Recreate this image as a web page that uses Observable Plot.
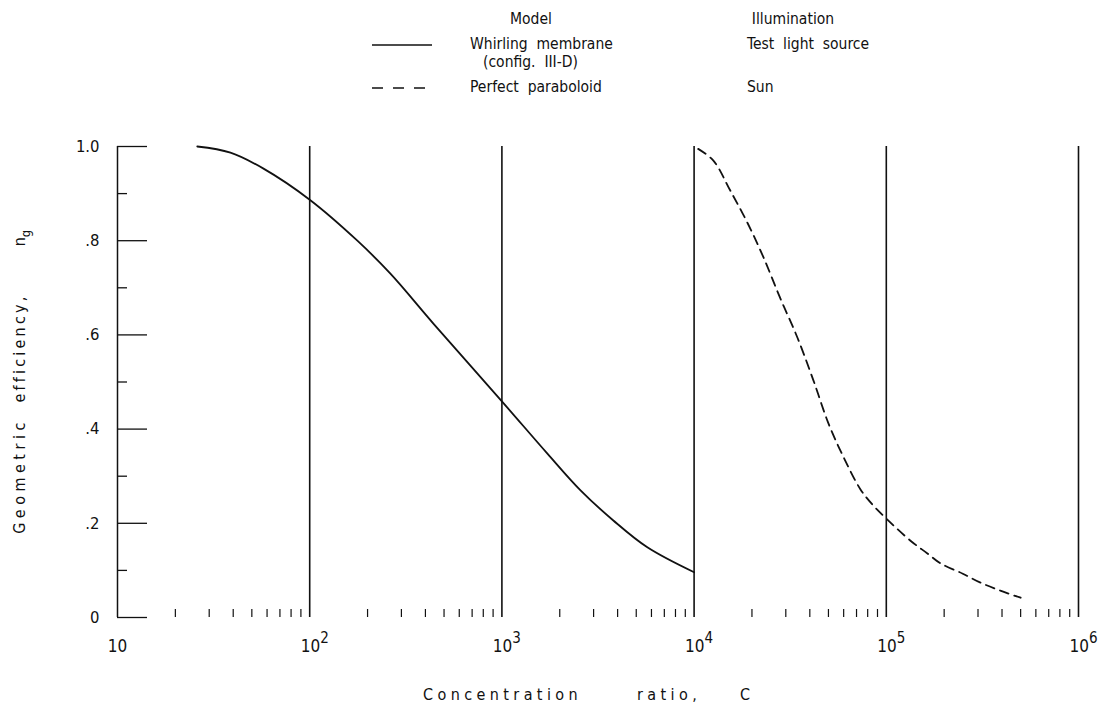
<!DOCTYPE html>
<html><head><meta charset="utf-8">
<script src="https://cdn.jsdelivr.net/npm/d3@7"></script>
<script src="https://cdn.jsdelivr.net/npm/@observablehq/plot@0.6"></script>
<style>
body{margin:0;background:#fff;}
#wrap{position:relative;width:1098px;height:711px;font-family:'DejaVu Sans Condensed','DejaVu Sans',sans-serif;font-stretch:condensed;color:#111;}
.leg{position:absolute;font-size:15.5px;white-space:pre;line-height:1;transform:translateY(-50%);}
.legc{position:absolute;font-size:15.5px;white-space:pre;line-height:1;transform:translate(-50%,-50%);}
</style></head><body><div id="wrap"></div>
<script>
// Whirling membrane (config. III-D), test light source
const membraneC = [26, 38.7, 57.5, 100, 177, 263, 440, 1000, 1725, 2565, 3800, 5710, 10000];
const membraneEta = [1.0, 0.987, 0.953, 0.887, 0.800, 0.730, 0.624, 0.459, 0.348, 0.270, 0.206, 0.149, 0.096];
// Perfect paraboloid, sun
const paraboloidC = [10500, 12600, 15400, 19000, 23000, 28000, 34500, 41800, 50000, 60000, 73400, 85000, 100000, 133600, 163700, 191300, 250000, 309000, 392000, 500000];
const paraboloidEta = [0.995, 0.970, 0.907, 0.837, 0.764, 0.679, 0.594, 0.503, 0.412, 0.340, 0.272, 0.239, 0.210, 0.163, 0.136, 0.115, 0.093, 0.074, 0.057, 0.042];

const decades = [10, 100, 1000, 10000, 100000, 1000000];
const decadeLabels = ["10", "10²", "10³", "10⁴", "10⁵", "10⁶"];
const minorMultipliers = [2, 3, 4, 5, 6, 7, 8, 9];
const yMajor = [0, 0.2, 0.4, 0.6, 0.8, 1.0];
const yMajorLabels = ["0", ".2", ".4", ".6", ".8", "1.0"];
const yMinor = [0.1, 0.3, 0.5, 0.7, 0.9];

const membrane = membraneC.map((c, i) => ({C: c, eta: membraneEta[i]}));
const paraboloid = paraboloidC.map((c, i) => ({C: c, eta: paraboloidEta[i]}));
const minorX = decades.slice(0, -1).flatMap(d => minorMultipliers.map(m => m * d));
const xLab = new Map(decades.map((d, i) => [d, decadeLabels[i]]));
const yLab = new Map(yMajor.map((d, i) => [d, yMajorLabels[i]]));

const font = "'DejaVu Sans Condensed','DejaVu Sans',sans-serif";
const chart = Plot.plot({
  width: 1098, height: 711,
  marginLeft: 117, marginRight: 20, marginTop: 146, marginBottom: 94,
  x: {type: "log", domain: [10, 1e6]},
  y: {domain: [0, 1]},
  style: {fontFamily: font, fontSize: "16px", color: "#111", background: "white", fontStretch: "condensed"},
  marks: [
    Plot.ruleX([10], {y1: 0, y2: 1, stroke: "#111", strokeWidth: 1.5}),
    Plot.ruleX(decades.slice(1), {y1: 0, y2: 1, stroke: "#111", strokeWidth: 1.6}),
    Plot.axisY(yMajor, {tickSize: -30, tickFormat: () => "", label: null, strokeWidth: 1.3}),
    Plot.axisY(yMinor, {tickSize: -10, tickFormat: () => "", label: null, strokeWidth: 1.3}),
    Plot.axisY(yMajor, {tickSize: 0, tickPadding: 18, tickFormat: d => yLab.get(d), label: null, fontSize: 16.5}),
    Plot.axisX(minorX, {tickSize: -8, tickFormat: () => "", label: null, strokeWidth: 1.2}),
    Plot.axisX(decades, {tickSize: 0, tickPadding: 22, tickFormat: d => xLab.get(d), fontSize: 17, label: null}),
    Plot.line(membrane, {x: "C", y: "eta", curve: "catmull-rom", stroke: "#111", strokeWidth: 1.8}),
    Plot.line(paraboloid, {x: "C", y: "eta", curve: "catmull-rom", stroke: "#111", strokeWidth: 1.8, strokeDasharray: "9,6"})
  ]
});
const wrap = document.getElementById("wrap");
wrap.appendChild(chart);
chart.style.position = "absolute"; chart.style.left = "0"; chart.style.top = "0";

const svg = d3.select(chart);
// superscript exponents on the decade labels
const supMap = {"²": "2", "³": "3", "⁴": "4", "⁵": "5", "⁶": "6"};
svg.selectAll('g[aria-label="x-axis tick label"] text').each(function () {
  const t = this.textContent;
  const last = t.slice(-1);
  if (supMap[last]) {
    const el = d3.select(this);
    el.text(null).attr("dx", 5);
    el.append("tspan").text(t.slice(0, -1));
    el.append("tspan").attr("dy", -9).attr("font-size", 15).text(supMap[last]);
  }
});

// y-axis title (words spaced as in the original lettering)
const yWords = [
  {t: "Geometric", c: 476, ls: 4.5},
  {t: "efficiency,", c: 348, ls: 3.2}
];
for (const w of yWords) {
  svg.append("text").attr("transform", `translate(25,${w.c}) rotate(-90)`)
    .attr("text-anchor", "middle").attr("font-size", 16).attr("letter-spacing", w.ls + "px")
    .attr("fill", "#111").text(w.t);
}
const ng = svg.append("text").attr("transform", "translate(25,238) rotate(-90)")
  .attr("text-anchor", "middle").attr("font-size", 16).attr("fill", "#111");
ng.append("tspan").text("n");
ng.append("tspan").attr("dy", 5).attr("font-size", 13).text("g");

// x-axis title
const xWords = [{t: "Concentration", x: 423}, {t: "ratio,", x: 637}, {t: "C", x: 740}];
for (const w of xWords) {
  svg.append("text").attr("x", w.x).attr("y", 700).attr("font-size", 16).attr("text-anchor", "start")
    .attr("letter-spacing", "4.4px").attr("fill", "#111").text(w.t);
}

// legend
const legend = [
  {cls: "legc", x: 531, y: 20, t: "Model"},
  {cls: "legc", x: 793, y: 20, t: "Illumination"},
  {cls: "leg", x: 470, y: 45, t: "Whirling  membrane"},
  {cls: "leg", x: 483, y: 63, t: "(config.  III-D)"},
  {cls: "leg", x: 747, y: 45, t: "Test  light  source"},
  {cls: "leg", x: 470, y: 88, t: "Perfect  paraboloid"},
  {cls: "leg", x: 747, y: 88, t: "Sun"}
];
for (const l of legend) {
  const d = document.createElement("div");
  d.className = l.cls; d.style.left = l.x + "px"; d.style.top = l.y + "px"; d.textContent = l.t;
  wrap.appendChild(d);
}
const ls = document.createElementNS("http://www.w3.org/2000/svg", "svg");
ls.setAttribute("width", 1098); ls.setAttribute("height", 110);
ls.style.position = "absolute"; ls.style.left = "0"; ls.style.top = "0";
ls.innerHTML = '<line x1="372" x2="432" y1="45" y2="45" stroke="#111" stroke-width="1.6"/>' +
  '<line x1="372" x2="432" y1="88" y2="88" stroke="#111" stroke-width="1.6" stroke-dasharray="11,10"/>';
wrap.appendChild(ls);
</script></body></html>
